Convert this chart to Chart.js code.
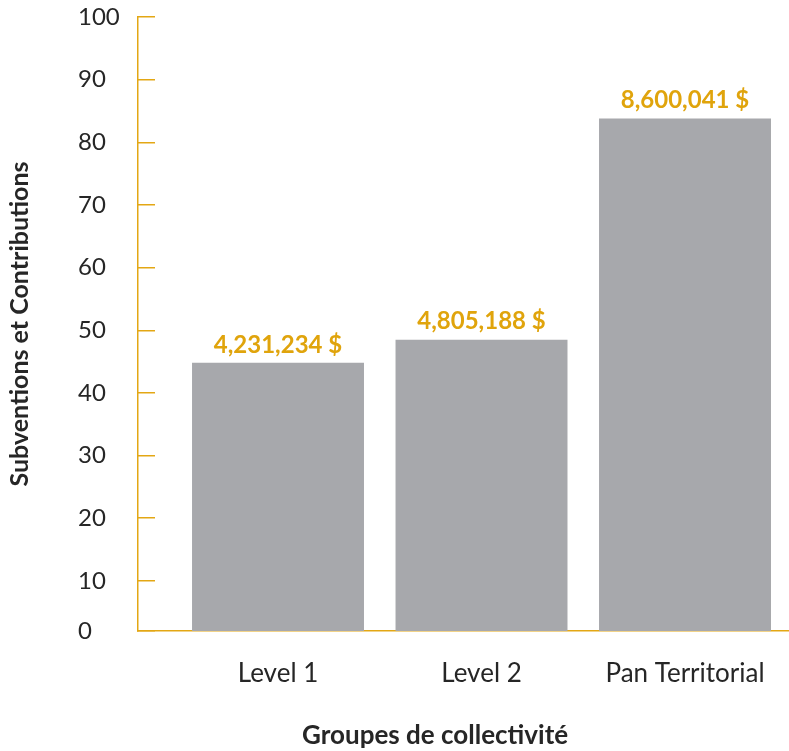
<!DOCTYPE html>
<html>
<head>
<meta charset="utf-8">
<script src="https://cdn.jsdelivr.net/npm/chart.js@4.4.0/dist/chart.umd.min.js"></script>
<style>
  html, body { margin: 0; padding: 0; background: #fff; }
  #wrap { width: 789px; height: 751px; }
</style>
</head>
<body>
<div id="wrap"><canvas id="bar-chart"></canvas></div>
<script>
const categories = ['Level 1', 'Level 2', 'Pan Territorial'];
const values = [44.8, 48.5, 83.8];
const valueLabels = ['4,231,234 $', '4,805,188 $', '8,600,041 $'];
// the reference squeezes its first interval: the "0" sits just under the 10 mark
const yTickValues = [2, 10, 20, 30, 40, 50, 60, 70, 80, 90, 100];
const yTickLabels = ['0', '10', '20', '30', '40', '50', '60', '70', '80', '90', '100'];

const gold = '#e3a714';
const labelGold = '#e0a40c';
const textColor = '#262626';
const fontFamily = 'Lato, "Open Sans", sans-serif';

const barValueLabels = {
    id: 'barValueLabels',
    afterDatasetsDraw(chart) {
        const ctx = chart.ctx;
        const meta = chart.getDatasetMeta(0);
        ctx.save();
        ctx.font = 'bold 24px ' + fontFamily;
        ctx.fillStyle = labelGold;
        ctx.textAlign = 'center';
        ctx.textBaseline = 'middle';
        meta.data.forEach((bar, i) => {
            ctx.fillText(valueLabels[i], bar.x, bar.y - 18);
        });
        ctx.restore();
    }
};

new Chart(document.getElementById('bar-chart'), {
    type: 'bar',
    data: {
        datasets: [{
            data: values.map((v, i) => ({ x: i, y: v })),
            backgroundColor: '#a7a8ac',
            barPercentage: 0.845,
            categoryPercentage: 1
        }]
    },
    plugins: [barValueLabels],
    options: {
        maintainAspectRatio: false,
        animation: false,
        layout: { padding: { top: 17, right: 0, bottom: 0, left: 0 } },
        plugins: {
            legend: { display: false },
            tooltip: { enabled: false }
        },
        scales: {
            x: {
                type: 'linear',
                offset: false,
                bounds: 'data',
                min: -0.688,
                max: 2.511,
                afterBuildTicks: s => { s.ticks = categories.map((c, i) => ({ value: i })); },
                afterFit: s => {
                    s.height = 120;
                    s.paddingLeft = 0;
                    s.paddingRight = 0;
                },
                grid: { display: false, drawTicks: false, offset: false },
                border: { color: gold, width: 1.5 },
                ticks: {
                    callback: v => categories[v],
                    color: textColor,
                    font: { family: fontFamily, size: 26 },
                    padding: 27,
                    maxRotation: 0
                },
                title: {
                    display: true,
                    // trailing spaces pull the centred title left, as in the reference
                    text: 'Groupes de collectivité' + '\u00a0'.repeat(9),
                    color: textColor,
                    font: { family: fontFamily, size: 26, weight: 'bold' },
                    padding: { top: 0, bottom: 0 }
                }
            },
            y: {
                min: 2,
                max: 100,
                weight: 0,
                afterBuildTicks: s => { s.ticks = yTickValues.map(v => ({ value: v })); },
                afterFit: s => { s.width = 60; },
                grid: { drawOnChartArea: false, color: gold, lineWidth: 1.5, tickLength: -17 },
                border: { color: gold, width: 1.5 },
                ticks: {
                    callback: (v, i) => yTickLabels[i],
                    crossAlign: 'far',
                    color: textColor,
                    font: { family: fontFamily, size: 24 },
                    padding: 0
                }
            },
            yTitle: {
                position: 'left',
                weight: 1,
                afterFit: s => { s.width = 78; },
                grid: { display: false },
                border: { display: false },
                ticks: { display: false },
                title: {
                    display: true,
                    text: 'Subventions et Contributions',
                    color: textColor,
                    font: { family: fontFamily, size: 25, weight: 'bold' },
                    padding: { top: 5, bottom: 0 }
                }
            }
        }
    }
});
</script>
</body>
</html>
